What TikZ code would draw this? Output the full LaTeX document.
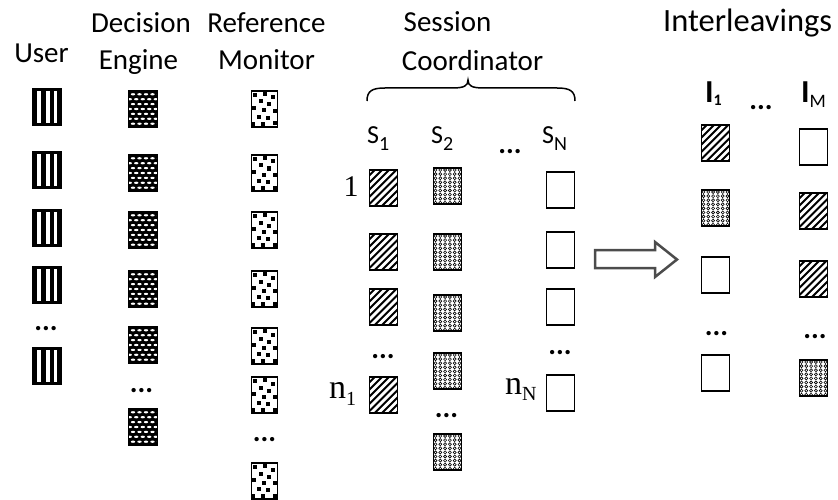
\documentclass[tikz,border=0pt]{standalone}
\usepackage{fontspec}
\setmainfont{Carlito}
\newfontfamily\serf{Liberation Serif}
\tikzset{
 cell/.style={rectangle, draw=black, line width=1.5pt, minimum width=28pt, minimum height=36pt, inner sep=0pt},
 usercell/.pic={
   \begin{scope}[x=1pt,y=-1pt]
   \fill[black] (-14,-18) rectangle (14,18);
   \fill[white] (-10.2,-16.2) rectangle (-6,16.2);
   \fill[white] (-1.4,-16.2) rectangle (2.8,16.2);
   \fill[white] (7.3,-16.2) rectangle (10.2,16.2);
   \node[cell] (-c) at (0,0) {};
   \end{scope}},
 decell/.pic={
   \begin{scope}[x=1pt,y=-1pt]
   \fill[black] (-14.5,-18) rectangle (14.5,18);
   \begin{scope}
   \clip (-14.5,-18) rectangle (14.5,18);
   \foreach \r in {0,...,6}{
     \pgfmathsetmacro\off{mod(\r,2)*3.25}
     \foreach \c in {0,...,4}{
       \fill[white] ({-10+\c*6.5-\off},{-14.7+\r*4.9}) ellipse [x radius=2.2pt, y radius=1.15pt];}}
   \end{scope}
   \node[cell, minimum width=29pt] (-c) at (0,0) {};
   \end{scope}},
 rmcell/.pic={
   \begin{scope}[x=1pt,y=-1pt]
   \fill[white] (-13,-18) rectangle (13,18);
   \begin{scope}
   \clip (-13,-18) rectangle (13,18);
   \foreach \p in {(1,2),(11.5,1),(19,4.5),(7,8.5),(15.5,11.5),(0,15),(10.5,17.5),(21,18),(5,24),(14.5,25),(21,30.5),(9,31),(-0.5,31)}{
     \begin{scope}[shift={(-13,-18)}]
     \fill[black] \p rectangle ++(4,4);
     \end{scope}}
   \end{scope}
   \node[cell, minimum width=26pt] (-c) at (0,0) {};
   \end{scope}},
 hatchcell/.pic={
   \begin{scope}[x=1pt,y=-1pt]
   \fill[black] (-14,-18) rectangle (14,18);
   \begin{scope}
   \clip (-14,-18) rectangle (14,18);
   \foreach \k in {-8,...,3}{\draw[white, line width=2.8pt] ({\k*7.2},20) -- ({\k*7.2+40},-20);}
   \end{scope}
   \node[cell] (-c) at (0,0) {};
   \end{scope}},
 dotcell/.pic={
   \begin{scope}[x=1pt,y=-1pt]
   \fill[white] (-14,-18) rectangle (14,18);
   \begin{scope}
   \clip (-14,-18) rectangle (14,18);
   \foreach \i in {0,...,5}{\foreach \j in {0,...,8}{
     \draw[black, line width=0.6pt] ({-12+\i*4.8},{-16+\j*4.1}) circle (1.5pt);}}
   \end{scope}
   \node[cell] (-c) at (0,0) {};
   \end{scope}},
 emptycell/.pic={
   \begin{scope}[x=1pt,y=-1pt]
   \node[cell, fill=white] (-c) at (0,0) {};
   \end{scope}},
 title/.style={font=\fontsize{29}{29}\selectfont, inner sep=0pt, anchor=base},
 sublab/.style={font=\fontsize{26}{26}\selectfont, inner sep=0pt, anchor=base west},
 ilab/.style={font=\bfseries\fontsize{32}{32}\selectfont, inner sep=0pt, anchor=base west},
 dots/.style={font=\bfseries\fontsize{29}{29}\selectfont, inner sep=0pt},
 serifl/.style={font=\serf\fontsize{34}{34}\selectfont, inner sep=0pt, anchor=base west},
}
\begin{document}
\begin{tikzpicture}[x=1pt,y=-1pt]
\useasboundingbox (0,0) rectangle (838,500);
% titles
\node[title] (tuser) at (41.5,63) {User};
\node[title] (tdec) at (141,33) {Decision};
\node[title] (teng) at (138.5,70) {Engine};
\node[title] (tref) at (266.5,33) {Reference};
\node[title] (tmon) at (266.5,70) {Monitor};
\node[title] (tses) at (447.5,32) {Session};
\node[title] (tcoo) at (472.5,71) {Coordinator};
\node[title, anchor=base west, font=\fontsize{32.5}{32.5}\selectfont] (tint) at (663,32) {Interleavings};
% brace
\draw[line width=1.5pt] (367,101) .. controls (367,91) and (372,88) .. (385,88) -- (452,88)
  .. controls (464,88) and (468,86) .. (468,80) .. controls (468,86) and (472,88) .. (484,88)
  -- (557,88) .. controls (570,88) and (575,91) .. (575,101);
% session labels
\node[sublab] (ls1) at (367,143) {S\raisebox{-7pt}{\fontsize{20}{20}\selectfont 1}};
\node[sublab] (ls2) at (431,143) {S\raisebox{-7pt}{\fontsize{20}{20}\selectfont 2}};
\node[dots] (lsd) at (510,152) {...};
\node[sublab] (lsn) at (542,143) {S\raisebox{-7pt}{\fontsize{20}{20}\selectfont N}};
% interleaving labels
\node[ilab] (li1) at (705,103) {I\raisebox{-2pt}{\fontsize{16}{16}\selectfont 1}};
\node[dots] (lid) at (761,108) {...};
\node[ilab] (lim) at (801,103) {I\raisebox{-5pt}{\mdseries\fontsize{19}{19}\selectfont M}};
% user column
\foreach \y [count=\i] in {107,170,228,285,366} \pic (u\i) at (47,\y) {usercell};
\node[dots] (ud) at (46,329) {...};
% decision engine column
\foreach \y [count=\i] in {109,173,230,289,345,427} \pic (d\i) at (143,\y) {decell};
\node[dots] (dd) at (141.5,391) {...};
% reference monitor column
\foreach \y [count=\i] in {109,173,230,289,346,395,481} \pic (r\i) at (264.5,\y) {rmcell};
\node[dots] (rd) at (264.5,440) {...};
% session columns
\foreach \y [count=\i] in {188,252,307,395} \pic (sa\i) at (383.5,\y) {hatchcell};
\node[dots] (sad) at (383,357) {...};
\foreach \y [count=\i] in {186,252,313,371,452} \pic (sb\i) at (447.5,\y) {dotcell};
\node[dots] (sbd) at (446.5,416) {...};
\foreach \y [count=\i] in {190,250,307,393} \pic (sn\i) at (560.5,\y) {emptycell};
\node[dots] (snd) at (560,353) {...};
% row labels
\node[font=\serf\fontsize{30}{30}\selectfont, inner sep=0pt] (one) at (351,186.5) {1};
\node[serifl] (n1) at (329,398) {n\raisebox{-7pt}{\fontsize{20}{20}\selectfont 1}};
\node[serifl] (nN) at (505,394) {n\raisebox{-6pt}{\fontsize{20}{20}\selectfont N}};
% arrow
\draw[line width=2.5pt, draw=black!70, fill=white, line join=miter]
  (595,250) -- (655,250) -- (655,242) -- (677,259.5) -- (655,277) -- (655,268) -- (595,268) -- cycle;
% interleavings
\pic (ia1) at (715.5,143) {hatchcell};
\pic (ia2) at (715.5,208) {dotcell};
\pic (ia3) at (715.5,275) {emptycell};
\node[dots] (iad) at (716.5,334) {...};
\pic (ia4) at (715.5,373) {emptycell};
\pic (ib1) at (813.5,147) {emptycell};
\pic (ib2) at (813.5,211) {hatchcell};
\pic (ib3) at (813.5,279) {hatchcell};
\node[dots] (ibd) at (815,337) {...};
\pic (ib4) at (813.5,378) {dotcell};
\end{tikzpicture}
\end{document}
